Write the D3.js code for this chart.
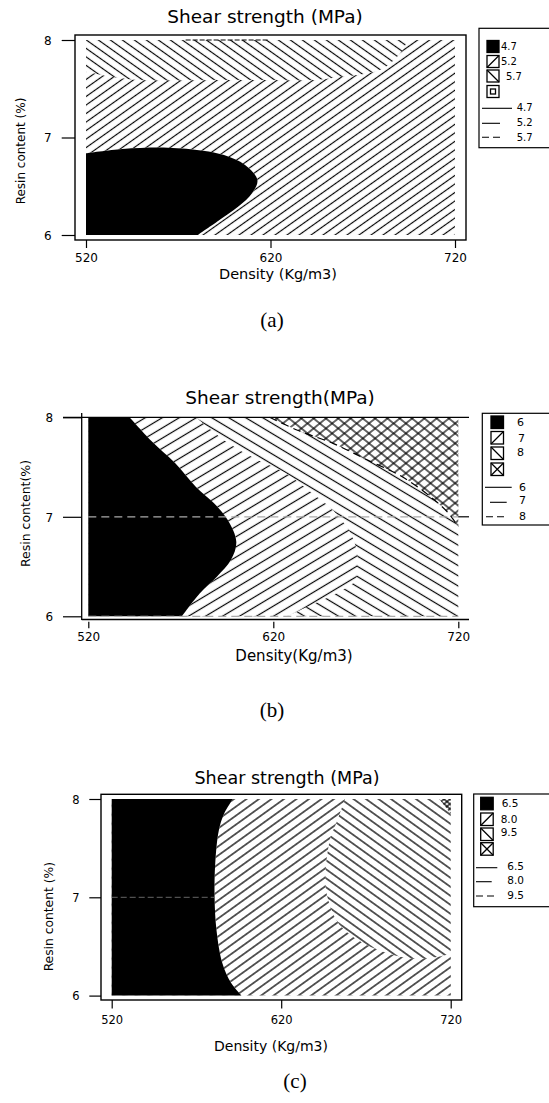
<!DOCTYPE html>
<html>
<head>
<meta charset="utf-8">
<script src="https://cdn.jsdelivr.net/npm/d3@7"></script>
<style>
  body { margin: 0; background: #fff; }
  svg { display: block; font-family: "DejaVu Sans", sans-serif; }
</style>
</head>
<body>
<svg id="chart" width="549" height="1103"></svg>
<script>
// axis values shared by the three panels
const densityTicks = [520, 620, 720];
const resinTicks = [6, 7, 8];

// (a) levels and region edges, [density, resin %]
const levelsA = ["4.7", "5.2", "5.7"];
const blackEdgeA = [[520, 6.838], [539.8, 6.882], [564.4, 6.895], [583.4, 6.865], [594.8, 6.82],
  [606.2, 6.718], [612.9, 6.564], [610, 6.428], [602.4, 6.29], [591, 6.136], [580.6, 6.0]];
const upperEdgeA = [[520, 7.675], [535.4, 7.617], [548.7, 7.59], [600, 7.59], [643.6, 7.59],
  [655, 7.614], [670.7, 7.651], [679.3, 7.692], [685.9, 7.778], [691.6, 7.897], [694.4, 8.0]];
const topDashA = [[574, 8], [619.5, 8]];

// (b)
const levelsB = ["6", "7", "8"];
const blackEdgeB = [[542.3, 8.0], [553.7, 7.77], [566.9, 7.54], [578.2, 7.30], [587.7, 7.14],
  [595.3, 6.97], [600, 6.75], [597.2, 6.57], [589.6, 6.40], [580.2, 6.23], [570.6, 6.0]];
const midEdgeB = [[578.3, 8.0], [593.4, 7.77], [608.5, 7.60], [626.5, 7.44], [638.8, 7.27],
  [652.0, 7.07], [659.6, 6.90], [663.4, 6.77], [665.3, 6.63], [665.3, 6.50], [664.4, 6.36],
  [653.9, 6.23], [642.6, 6.13], [627.5, 6.0]];
const crossEdgeB = [[618.0, 8.0], [633.1, 7.87], [652.0, 7.74], [671.0, 7.57], [689.9, 7.40],
  [705.1, 7.20], [714.5, 7.04], [720, 6.90]];

// (c)
const levelsC = ["6.5", "8.0", "9.5"];
const blackEdgeC = [[591.5, 8.0], [586.3, 7.85], [583.2, 7.68], [581.1, 7.35], [580.7, 7.0],
  [581.8, 6.67], [585.3, 6.33], [590.4, 6.13], [596.6, 6.0]];
const midEdgeC = [[657.6, 8.0], [652.4, 7.75], [649.3, 7.62], [647.3, 7.45], [646.2, 7.28],
  [646.2, 7.11], [648.3, 6.94], [653.5, 6.74], [660.7, 6.62], [668.9, 6.53], [679.3, 6.45],
  [691.7, 6.39], [704.1, 6.38], [714.4, 6.40], [720, 6.43]];
const crossEdgeC = [[713.3, 8.0], [720, 7.85]];

const svg = d3.select("#chart");
const defs = svg.append("defs");

function hatch(id, slope, hGap, dir, w) {
  const th = Math.atan(slope) * 180 / Math.PI;
  const gap = hGap * Math.sin(Math.atan(slope));
  const ang = dir === "fwd" ? 90 - th : -(90 - th);
  const pat = defs.append("pattern")
    .attr("id", id)
    .attr("patternUnits", "userSpaceOnUse")
    .attr("width", gap).attr("height", 10)
    .attr("patternTransform", `rotate(${ang})`);
  pat.append("line")
    .attr("x1", gap / 2).attr("x2", gap / 2)
    .attr("y1", -1).attr("y2", 11)
    .attr("stroke", "#000").attr("stroke-width", w);
  return `url(#${id})`;
}

function drawLegend(lg) {
  const g = svg.append("g").attr("font-size", lg.font);
  g.append("rect")
    .attr("x", lg.x).attr("y", lg.y).attr("width", 90).attr("height", lg.h)
    .attr("fill", "#fff").attr("stroke", "#000").attr("stroke-width", 1.2);
  lg.kinds.forEach((k, i) => {
    const x0 = lg.sqX, y0 = lg.sqTops[i], s = lg.sq;
    g.append("rect").attr("x", x0).attr("y", y0).attr("width", s).attr("height", s)
      .attr("fill", k === "solid" ? "#000" : "#fff").attr("stroke", "#000").attr("stroke-width", 1.3);
    if (k === "fwd" || k === "cross")
      g.append("line").attr("x1", x0).attr("y1", y0 + s).attr("x2", x0 + s).attr("y2", y0).attr("stroke", "#000").attr("stroke-width", 1.3);
    if (k === "back" || k === "cross")
      g.append("line").attr("x1", x0).attr("y1", y0).attr("x2", x0 + s).attr("y2", y0 + s).attr("stroke", "#000").attr("stroke-width", 1.3);
    if (k === "box")
      g.append("rect").attr("x", x0 + 3.5).attr("y", y0 + 3.5).attr("width", s - 7).attr("height", s - 7)
        .attr("fill", "none").attr("stroke", "#000").attr("stroke-width", 1.3);
  });
  lg.levels.forEach((t, i) => {
    g.append("text").attr("x", lg.sqLabelX[i]).attr("y", lg.sqLabelY[i]).attr("dy", "0.35em").text(t);
  });
  lg.levels.forEach((t, i) => {
    g.append("line")
      .attr("x1", lg.lineX0[i]).attr("x2", lg.lineX1[i])
      .attr("y1", lg.lineY[i]).attr("y2", lg.lineY[i])
      .attr("stroke", "#000").attr("stroke-width", 1.1)
      .attr("stroke-dasharray", i === 2 ? "7,4" : null);
    g.append("text").attr("x", lg.lineLabelX).attr("y", lg.lineLabelY[i]).attr("dy", "0.35em").text(t);
  });
}

function drawPanel(p) {
  const x = d3.scaleLinear().domain([520, 720]).range([p.x0, p.x1]);
  const y = d3.scaleLinear().domain([6, 8]).range([p.y6, p.y8]);
  const edgeLine = d3.line().x(d => x(d[0])).y(d => y(d[1])).curve(d3.curveCatmullRom);
  const shape = (edge, corners) =>
    edgeLine(edge) + corners.map(c => `L${x(c[0])},${y(c[1])}`).join("") + "Z";
  const g = svg.append("g");
  const region = (d, fills) => {
    g.append("path").attr("d", d).attr("fill", "#fff");
    fills.forEach(f => g.append("path").attr("d", d).attr("fill", f));
  };

  const fwd = hatch(p.id + "f", p.slope, p.hGap, "fwd", p.hw);
  const back = hatch(p.id + "b", p.slope, p.hGap, "back", p.hw);
  const xf = hatch(p.id + "xf", p.xSlope, p.xGap, "fwd", p.hw);
  const xb = hatch(p.id + "xb", p.xSlope, p.xGap, "back", p.hw);

  const full = `M${x(520)},${y(6)}L${x(520)},${y(8)}L${x(720)},${y(8)}L${x(720)},${y(6)}Z`;
  p.regions({ region, shape, full, fwd, back, xf, xb });

  p.lines(g, x, y);

  // frame / axis lines
  p.frame(g);

  const ax = g.append("g").attr("transform", `translate(0,${p.xAxisY})`)
    .call(d3.axisBottom(x).tickValues(densityTicks).tickSize(p.xTick).tickFormat(d3.format("d")));
  ax.select(".domain").remove();
  ax.selectAll("line").attr("stroke-width", 1.2);
  ax.selectAll("text").attr("y", p.xLabY - p.xAxisY).attr("dy", "0.35em")
    .attr("font-size", p.tickFont).attr("font-family", "DejaVu Sans").attr("fill", "#000");

  const ay = g.append("g").attr("transform", `translate(${p.yAxisX},0)`)
    .call(d3.axisLeft(y).tickValues(resinTicks).tickSize(p.yTick).tickFormat(d3.format("d")));
  ay.select(".domain").remove();
  ay.selectAll("line").attr("stroke-width", 1.2);
  ay.selectAll("text").attr("x", p.yLabX - p.yAxisX).attr("dy", "0.35em").attr("text-anchor", "middle")
    .attr("font-size", p.tickFont).attr("font-family", "DejaVu Sans").attr("fill", "#000");

  g.append("text").attr("x", p.title[0]).attr("y", p.title[1]).attr("dy", "0.35em")
    .attr("text-anchor", "middle").attr("font-size", p.title[2]).text(p.title[3]);
  g.append("text").attr("x", p.xTitle[0]).attr("y", p.xTitle[1]).attr("dy", "0.35em")
    .attr("text-anchor", "middle").attr("font-size", p.xTitle[2]).text(p.xTitle[3]);
  g.append("text")
    .attr("transform", `translate(${p.yTitle[0]},${p.yTitle[1]}) rotate(-90)`)
    .attr("dy", "0.35em").attr("text-anchor", "middle").attr("font-size", p.yTitle[2]).text(p.yTitle[3]);
  g.append("text").attr("x", p.caption[0]).attr("y", p.caption[1]).attr("dy", "0.35em")
    .attr("text-anchor", "middle").attr("font-family", "Liberation Serif, serif")
    .attr("font-size", 21).text(p.caption[2]);

  drawLegend(p.legend);
}

// panel (a)
drawPanel({
  id: "a", x0: 86, x1: 455, y6: 235, y8: 40,
  slope: 0.71, hGap: 12, xSlope: 0.8, xGap: 12, hw: 1.15,
  regions: ({ region, shape, full, fwd, back }) => {
    region(full, [fwd]);
    region(shape(upperEdgeA, [[520, 8]]), [back]);
    region(shape(blackEdgeA, [[520, 6]]), ["#000"]);
  },
  lines: (g, x, y) => {
    g.append("path").attr("d", d3.line().x(d => x(d[0])).y(d => y(d[1]))(topDashA))
      .attr("fill", "none").attr("stroke", "#000").attr("stroke-width", 1.2).attr("stroke-dasharray", "5,2");
  },
  frame: g => g.append("rect").attr("x", 75).attr("y", 35).attr("width", 391).attr("height", 205)
    .attr("fill", "none").attr("stroke", "#000").attr("stroke-width", 1.4),
  xAxisY: 240, xTick: 8, xLabY: 258, yAxisX: 75, yTick: 13.3, yLabX: 47.7, tickFont: 12,
  title: [265, 17, 18.5, "Shear strength (MPa)"],
  xTitle: [278, 273.5, 14.5, "Density (Kg/m3)"],
  yTitle: [21, 151, 12, "Resin content (%)"],
  caption: [272, 320, "(a)"],
  legend: {
    x: 479, y: 28.3, h: 119.4, font: 10, levels: levelsA,
    kinds: ["solid", "fwd", "back", "box"], sqX: 487, sq: 12, sqTops: [40.5, 55.5, 70, 85.5],
    sqLabelX: [501, 501, 506], sqLabelY: [46, 61.5, 76.5],
    lineX0: [482, 482, 482], lineX1: [512, 500, 500], lineY: [108.3, 123.3, 137.3],
    lineLabelX: 516.7, lineLabelY: [107.5, 122.5, 137]
  }
});

// panel (b)
drawPanel({
  id: "b", x0: 88.3, x1: 458.3, y6: 616.3, y8: 417.3,
  slope: 0.6, hGap: 17, xSlope: 0.81, xGap: 12.3, hw: 1.2,
  regions: ({ region, shape, full, fwd, back, xf, xb }) => {
    region(full, [back]);
    region(shape(midEdgeB, [[520, 6], [520, 8]]), [fwd]);
    region(shape(blackEdgeB, [[520, 6], [520, 8]]), ["#000"]);
    region(shape(crossEdgeB, [[720, 8]]), [xf, xb]);
  },
  lines: (g, x, y) => {
    g.append("path").attr("d", d3.line().x(d => x(d[0])).y(d => y(d[1])).curve(d3.curveCatmullRom)(crossEdgeB))
      .attr("fill", "none").attr("stroke", "#000").attr("stroke-width", 1.2).attr("stroke-dasharray", "8,5");
    [7, 6].forEach(v => g.append("line").attr("x1", x(520)).attr("x2", x(720)).attr("y1", y(v)).attr("y2", y(v))
      .attr("stroke", "#aaa").attr("stroke-width", 1.2).attr("stroke-dasharray", "8,5"));
  },
  frame: g => {
    g.append("line").attr("x1", 81.7).attr("x2", 81.7).attr("y1", 413).attr("y2", 620).attr("stroke", "#000").attr("stroke-width", 1.3);
    g.append("line").attr("x1", 63).attr("x2", 469).attr("y1", 417.3).attr("y2", 417.3).attr("stroke", "#000").attr("stroke-width", 1.3);
    g.append("line").attr("x1", 81.7).attr("x2", 469).attr("y1", 619.5).attr("y2", 619.5).attr("stroke", "#000").attr("stroke-width", 1.3);
    g.append("line").attr("x1", 458.3).attr("x2", 469).attr("y1", 516.8).attr("y2", 516.8).attr("stroke", "#000").attr("stroke-width", 1.2);
  },
  xAxisY: 621.7, xTick: 6.6, xLabY: 637, yAxisX: 81.7, yTick: 18.7, yLabX: 49.3, tickFont: 12,
  title: [280, 397.3, 18.5, "Shear strength(MPa)"],
  xTitle: [294, 656, 15, "Density(Kg/m3)"],
  yTitle: [26, 513.5, 12.5, "Resin content(%)"],
  caption: [272, 710, "(b)"],
  legend: {
    x: 482.3, y: 413.3, h: 111.7, font: 11, levels: levelsB,
    kinds: ["solid", "fwd", "back", "cross"], sqX: 491, sq: 12.5, sqTops: [416, 431.5, 447, 463],
    sqLabelX: [517, 518, 517], sqLabelY: [422, 438, 452],
    lineX0: [485, 490, 486], lineX1: [511.7, 506.7, 506.7], lineY: [487.3, 502.3, 516.7],
    lineLabelX: 519, lineLabelY: [487, 500.5, 516]
  }
});

// panel (c)
drawPanel({
  id: "c", x0: 111.7, x1: 450.7, y6: 995.6, y8: 799,
  slope: 0.72, hGap: 12.5, xSlope: 0.8, xGap: 6, hw: 1.25,
  regions: ({ region, shape, full, fwd, back, xf, xb }) => {
    region(full, [back]);
    region(shape(midEdgeC, [[720, 6], [520, 6], [520, 8]]), [fwd]);
    region(shape(blackEdgeC, [[520, 6], [520, 8]]), ["#000"]);
    region(shape(crossEdgeC, [[720, 8]]), [xf, xb]);
  },
  lines: (g, x, y) => {
    g.append("line").attr("x1", x(520)).attr("x2", x(580.7)).attr("y1", y(7)).attr("y2", y(7))
      .attr("stroke", "#666").attr("stroke-width", 1).attr("stroke-dasharray", "6,3");
  },
  frame: g => g.append("rect").attr("x", 101).attr("y", 794.3).attr("width", 360.7).attr("height", 205.7)
    .attr("fill", "none").attr("stroke", "#000").attr("stroke-width", 1.4),
  xAxisY: 1000, xTick: 8.5, xLabY: 1020, yAxisX: 101, yTick: 11.7, yLabX: 76, tickFont: 11.5,
  title: [287, 778.3, 17.5, "Shear strength (MPa)"],
  xTitle: [271, 1046, 14, "Density (Kg/m3)"],
  yTitle: [49, 916.7, 12.3, "Resin content (%)"],
  caption: [295, 1081, "(c)"],
  legend: {
    x: 473.7, y: 794, h: 112.7, font: 10.5, levels: levelsC,
    kinds: ["solid", "fwd", "back", "cross"], sqX: 480.7, sq: 12.5, sqTops: [797.3, 813, 828, 842.7],
    sqLabelX: [501.7, 500.7, 500.7], sqLabelY: [803.5, 819.3, 832],
    lineX0: [476, 476, 476], lineX1: [497.3, 491.7, 495], lineY: [867.7, 881.7, 896],
    lineLabelX: 507.3, lineLabelY: [866.5, 880.5, 895.5]
  }
});
</script>
</body>
</html>
